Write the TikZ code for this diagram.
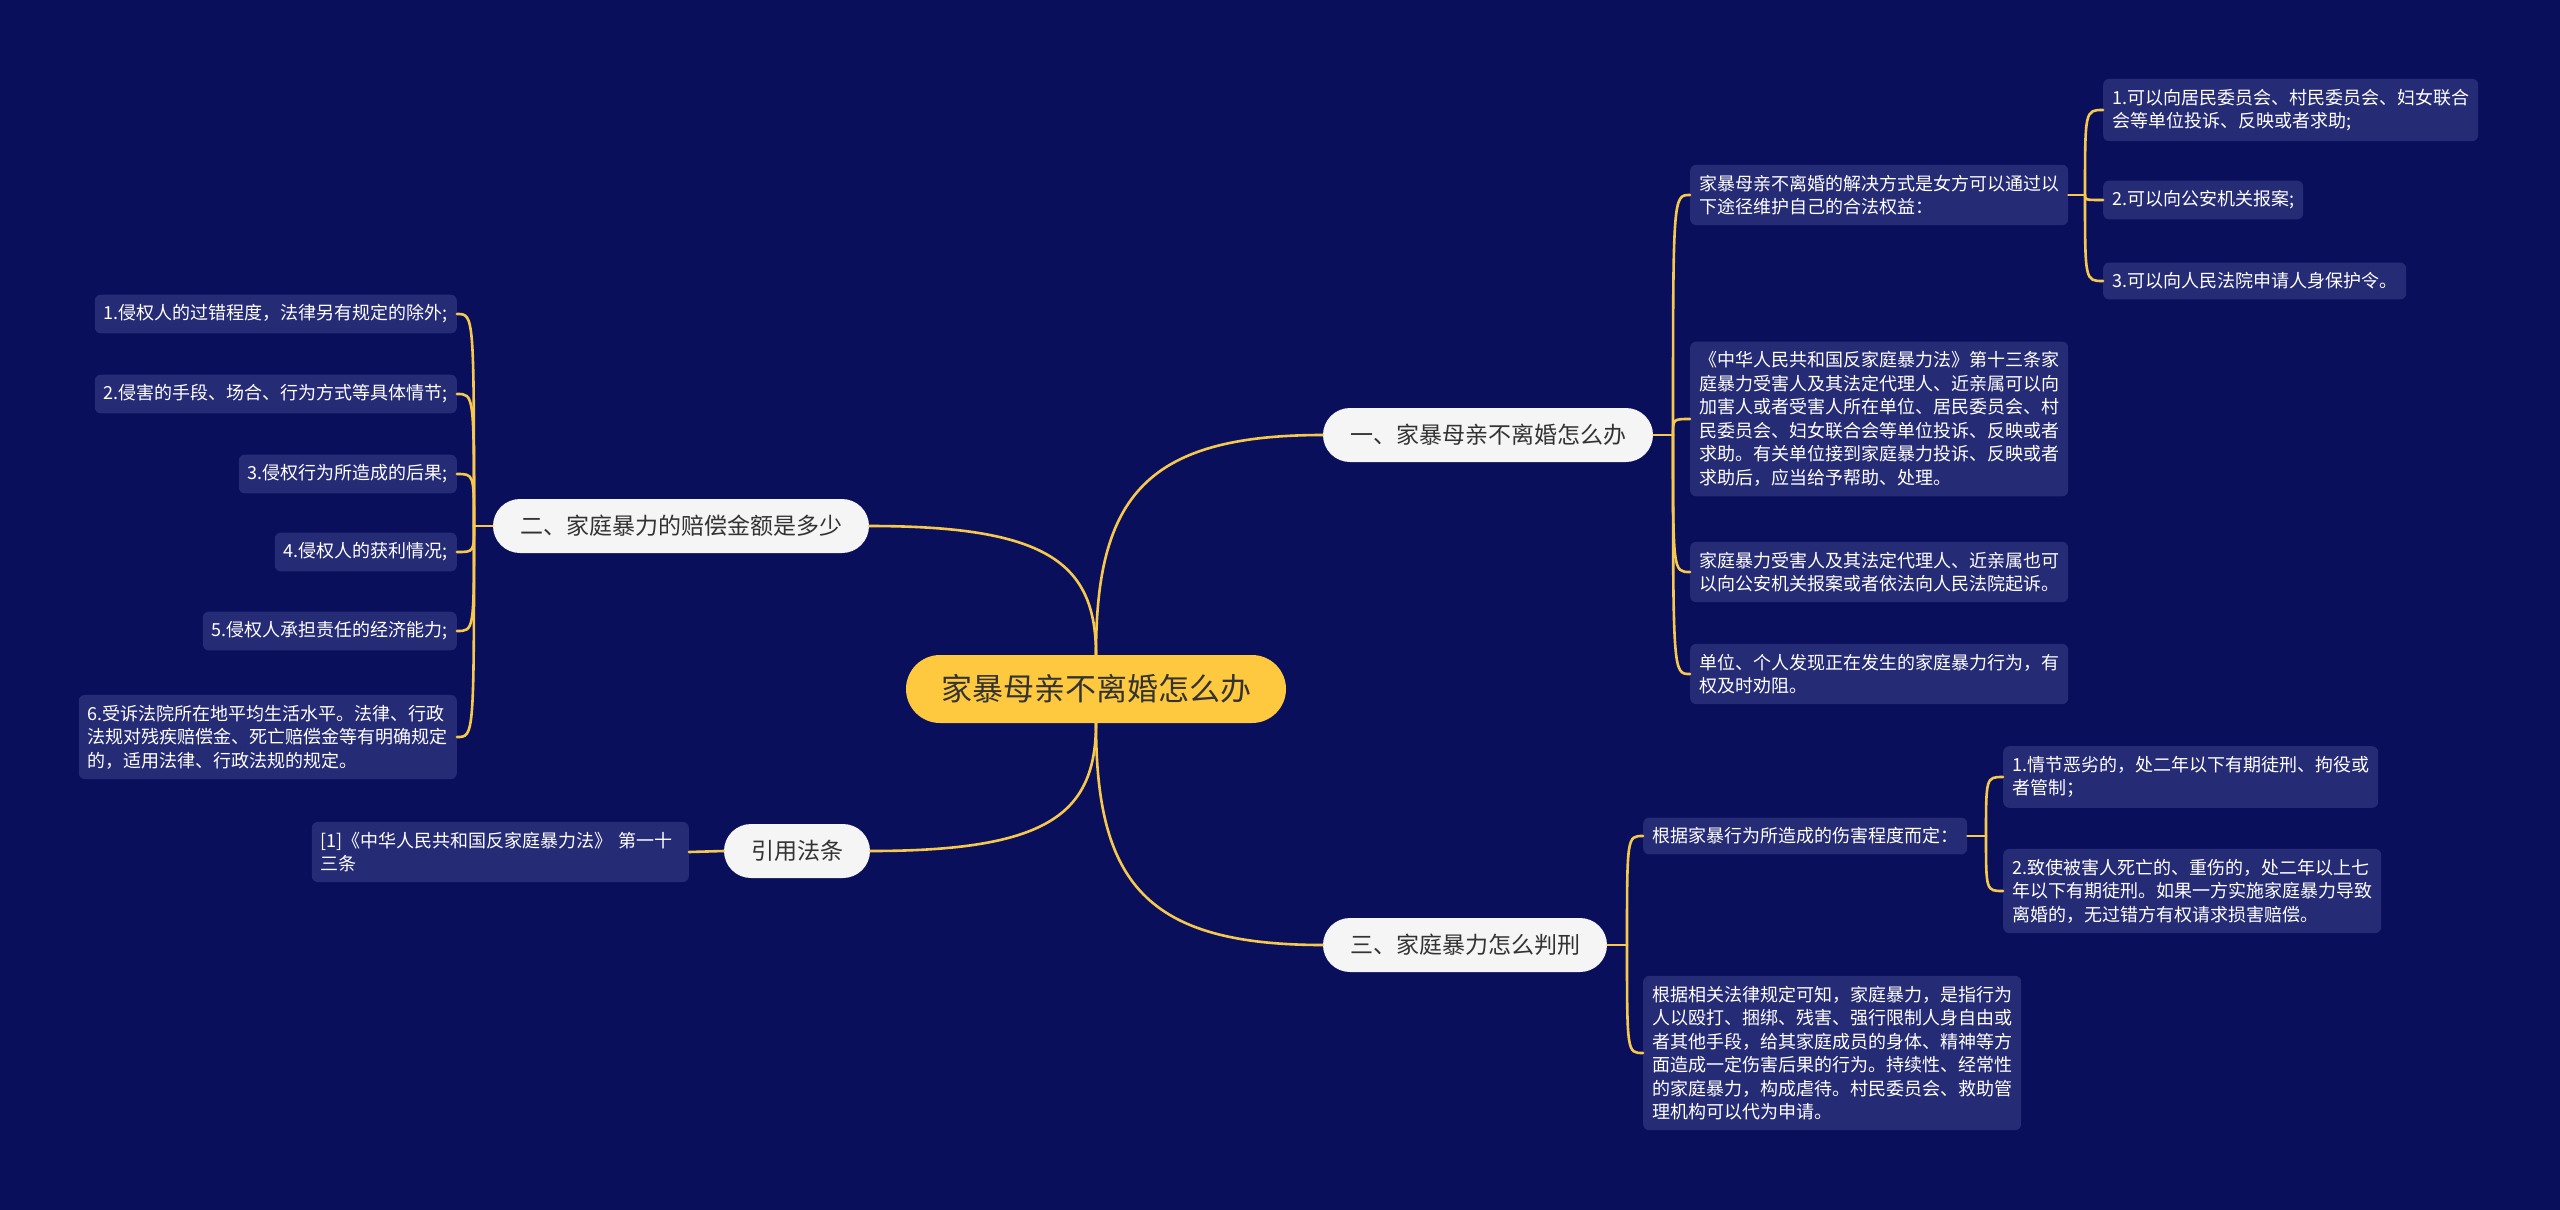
\documentclass[tikz,border=0pt]{standalone}
\usepackage{fontspec}
\setmainfont{Noto Sans CJK SC}
\usetikzlibrary{calc}
\definecolor{bgc}{HTML}{0A0F5C}
\definecolor{leafc}{HTML}{262B76}
\definecolor{linec}{HTML}{F6C94E}
\definecolor{rootc}{HTML}{FEC93E}
\definecolor{brc}{HTML}{F5F5F5}
\definecolor{txtc}{HTML}{333333}
\newcommand\rootlink[2]{\draw[ln] (#1) .. controls ($(#1)!0.72!(#1|-#2)$) and ($(#1|-#2)!0.22!(#2)$) .. (#2);}
\begin{document}
\begin{tikzpicture}[x=1pt,y=-1pt,
  leaf/.style={fill=leafc, rounded corners=6pt, text=white, font=\fontsize{18}{23.5}\selectfont, align=left, inner xsep=9pt, inner ysep=10pt},
  brnode/.style={fill=brc, rounded corners=27pt, minimum height=54pt, inner xsep=27pt, text=txtc, font=\fontsize{23}{28}\selectfont},
  rootnode/.style={fill=rootc, rounded corners=34pt, minimum height=68pt, inner xsep=35pt, text=txtc, font=\fontsize{31}{36}\selectfont},
  ln/.style={draw=linec, line width=2.6pt, line cap=round}]
\fill[bgc] (0,0) rectangle (2560,1210);
\useasboundingbox (0,0) rectangle (2560,1210);

% root and branches
\node[rootnode] (root) at (1096,689) {家暴母亲不离婚怎么办};
\node[brnode] (b1) at (1488,435) {一、家暴母亲不离婚怎么办};
\node[brnode] (b2) at (681,526) {二、家庭暴力的赔偿金额是多少};
\node[brnode] (b3) at (1465,945) {三、家庭暴力怎么判刑};
\node[brnode] (b4) at (797,851) {引用法条};

% branch 1 leaves
\node[leaf, anchor=west] (l1a) at (1690,195) {家暴母亲不离婚的解决方式是女方可以通过以\\下途径维护自己的合法权益：};
\node[leaf, anchor=west] (l1a1) at (2103,110) {1.可以向居民委员会、村民委员会、妇女联合\\会等单位投诉、反映或者求助;};
\node[leaf, anchor=west] (l1a2) at (2103,200) {2.可以向公安机关报案;};
\node[leaf, anchor=west] (l1a3) at (2103,281) {3.可以向人民法院申请人身保护令。};
\node[leaf, anchor=west] (l1b) at (1690,419) {《中华人民共和国反家庭暴力法》第十三条家\\庭暴力受害人及其法定代理人、近亲属可以向\\加害人或者受害人所在单位、居民委员会、村\\民委员会、妇女联合会等单位投诉、反映或者\\求助。有关单位接到家庭暴力投诉、反映或者\\求助后，应当给予帮助、处理。};
\node[leaf, anchor=west] (l1c) at (1690,572) {家庭暴力受害人及其法定代理人、近亲属也可\\以向公安机关报案或者依法向人民法院起诉。};
\node[leaf, anchor=west] (l1d) at (1690,674) {单位、个人发现正在发生的家庭暴力行为，有\\权及时劝阻。};

% branch 3 leaves
\node[leaf, anchor=west] (l3a) at (1643,836) {根据家暴行为所造成的伤害程度而定：};
\node[leaf, anchor=west] (l3b) at (1643,1053) {根据相关法律规定可知，家庭暴力，是指行为\\人以殴打、捆绑、残害、强行限制人身自由或\\者其他手段，给其家庭成员的身体、精神等方\\面造成一定伤害后果的行为。持续性、经常性\\的家庭暴力，构成虐待。村民委员会、救助管\\理机构可以代为申请。};
\node[leaf, anchor=west] (l3a1) at (2003,777) {1.情节恶劣的，处二年以下有期徒刑、拘役或\\者管制；};
\node[leaf, anchor=west] (l3a2) at (2003,891) {2.致使被害人死亡的、重伤的，处二年以上七\\年以下有期徒刑。如果一方实施家庭暴力导致\\离婚的，无过错方有权请求损害赔偿。};

% branch 2 leaves
\node[leaf, anchor=east] (l2a) at (457,314) {1.侵权人的过错程度，法律另有规定的除外;};
\node[leaf, anchor=east] (l2b) at (457,394) {2.侵害的手段、场合、行为方式等具体情节;};
\node[leaf, anchor=east] (l2c) at (457,474) {3.侵权行为所造成的后果;};
\node[leaf, anchor=east] (l2d) at (457,552) {4.侵权人的获利情况;};
\node[leaf, anchor=east] (l2e) at (457,631) {5.侵权人承担责任的经济能力;};
\node[leaf, anchor=east] (l2f) at (457,737) {6.受诉法院所在地平均生活水平。法律、行政\\法规对残疾赔偿金、死亡赔偿金等有明确规定\\的，适用法律、行政法规的规定。};

% branch 4 leaf
\node[leaf, anchor=east, text width=359pt] (l4a) at (689,852) {[1]《中华人民共和国反家庭暴力法》 第一十\\三条};

% root connectors
\rootlink{root.north}{b1.west}
\rootlink{root.north}{b2.east}
\rootlink{root.south}{b3.west}
\rootlink{root.south}{b4.east}

% bracket joints
\coordinate (k1) at (1673,435);
\coordinate (k1a) at (2085,195);
\coordinate (k3) at (1627,945);
\coordinate (k3a) at (1986,836);
\coordinate (k2) at (474,526);

\draw[ln] (b1.east) -- (k1);
\foreach \c in {l1a,l1b,l1c,l1d}{\draw[ln] (k1) .. controls (k1 |- \c.west) .. (\c.west);}
\draw[ln] (l1a.east) -- (k1a);
\foreach \c in {l1a1,l1a2,l1a3}{\draw[ln] (k1a) .. controls (k1a |- \c.west) .. (\c.west);}
\draw[ln] (b3.east) -- (k3);
\foreach \c in {l3a,l3b}{\draw[ln] (k3) .. controls (k3 |- \c.west) .. (\c.west);}
\draw[ln] (l3a.east) -- (k3a);
\foreach \c in {l3a1,l3a2}{\draw[ln] (k3a) .. controls (k3a |- \c.west) .. (\c.west);}
\draw[ln] (b2.west) -- (k2);
\foreach \c in {l2a,l2b,l2c,l2d,l2e,l2f}{\draw[ln] (k2) .. controls (k2 |- \c.east) .. (\c.east);}
\draw[ln] (b4.west) -- (l4a.east);
\end{tikzpicture}
\end{document}
